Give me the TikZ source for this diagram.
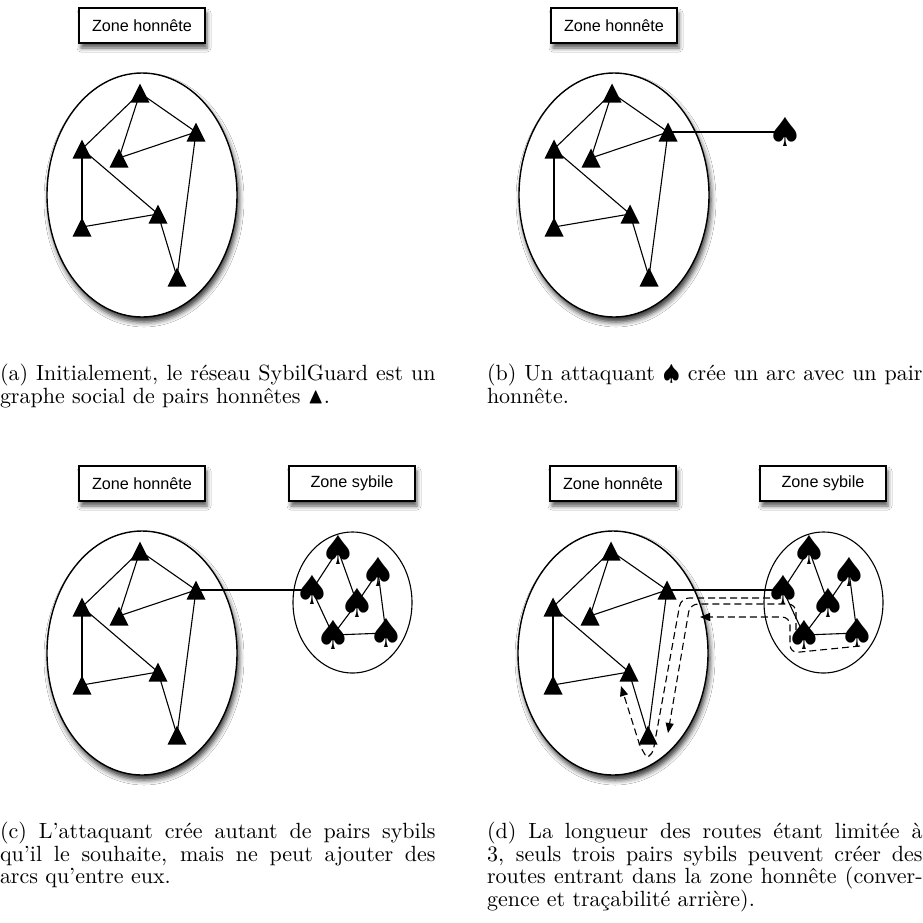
\documentclass[tikz,border=0pt]{standalone}
\usepackage{amssymb}
\usepackage{fontspec}
\newfontfamily\helv{Liberation Sans}
\newfontfamily\dejavu{DejaVu Sans}
\usetikzlibrary{shapes.geometric,arrows.meta,shadows.blur}

\tikzset{
  tri/.style={rectangle, inner sep=0pt, outer sep=0pt, minimum width=19pt, minimum height=19pt},
  sp/.style={inner sep=0pt, outer sep=0pt, font=\dejavu\fontsize{40}{40}\selectfont},
  edge/.style={line width=1.1pt, black},
  hzone/.style={ellipse, draw, line width=1.4pt, fill=white, minimum width=190pt, minimum height=244pt, inner sep=0pt,
    blur shadow={shadow xshift=2pt, shadow yshift=-5pt, shadow blur radius=5pt, shadow opacity=80}},
  szone/.style={ellipse, draw, line width=1.1pt, fill=white, minimum width=119pt, minimum height=141pt, inner sep=0pt},
  lbl/.style={rectangle, draw, line width=1.1pt, fill=white, minimum width=126pt, minimum height=35pt, inner sep=0pt,
    font=\helv\fontsize{16.2}{18}\selectfont,
    blur shadow={shadow xshift=2pt, shadow yshift=-5pt, shadow blur radius=4pt, shadow opacity=65}},
  route/.style={line width=1.1pt, dash pattern=on 7pt off 4pt, -{Triangle[length=10pt,width=8pt]}},
  captext/.style={anchor=north west, inner sep=0pt, outer sep=0pt, scale=2.2, transform shape,
    align=left, font=\fontsize{10}{10.45}\selectfont}
}
\newcommand\jline[1]{\makebox[198pt][s]{#1}}

\newcommand\honestgraph[1]{%
  \node[hzone] (#1e) at (142,195) {};
  \node[tri] (#1t1) at (140,93) {};
  \node[tri] (#1t2) at (196,132) {};
  \node[tri] (#1t3) at (82,149) {};
  \node[tri] (#1t4) at (119,158) {};
  \node[tri] (#1t5) at (82,227) {};
  \node[tri] (#1t6) at (158,214) {};
  \node[tri] (#1t7) at (177,277) {};
  \draw[edge] (#1t1.center) -- (#1t3.center);
  \draw[edge] (#1t1.center) -- (#1t4.center);
  \draw[edge] (#1t1.center) -- (#1t2.center);
  \draw[edge] (#1t2.center) -- (#1t4.center);
  \draw[edge] (#1t2.center) -- (#1t7.center);
  \draw[edge] (#1t3.center) -- (#1t5.center);
  \draw[edge] (#1t3.center) -- (#1t6.center);
  \draw[edge] (#1t5.center) -- (#1t6.center);
  \draw[edge] (#1t6.center) -- (#1t7.center);
  \foreach \k in {1,...,7} {\fill (#1t\k.south west) -- (#1t\k.south east) -- (#1t\k.north) -- cycle;}
}

\newcommand\sybilgraph[1]{%
  \node[szone] (#1e) at (352.5,602.5) {};
  \node[sp] (#1s1) at (338,550) {♠};
  \node[sp] (#1s2) at (378,572) {♠};
  \node[sp] (#1s3) at (312,590) {♠};
  \node[sp] (#1s4) at (357,603) {♠};
  \node[sp] (#1s5) at (333,635) {♠};
  \node[sp] (#1s6) at (386,633) {♠};
  \draw[edge] (#1s1.center) -- (#1s3.center);
  \draw[edge] (#1s1.center) -- (#1s4.center);
  \draw[edge] (#1s3.center) -- (#1s5.center);
  \draw[edge] (#1s5.center) -- (#1s4.center);
  \draw[edge] (#1s4.center) -- (#1s2.center);
  \draw[edge] (#1s2.center) -- (#1s6.center);
  \draw[edge] (#1s5.center) -- (#1s6.center);
}

\begin{document}
\begin{tikzpicture}[x=1pt,y=-1pt]
\useasboundingbox (0,0) rectangle (923,922);
\fill[white] (0,0) rectangle (923,922);

% (a)
\node[lbl] (la) at (142,25.5) {Zone honnête};
\honestgraph{a}

% (b)
\node[lbl] (lb) at (614,25.5) {Zone honnête};
\begin{scope}[shift={(472,0)}]
  \honestgraph{b}
\end{scope}
\node[sp] (bsp) at (785,132) {♠};
\draw[edge] (bt2.center) -- (bsp.center);

% (c)
\node[lbl] (lc1) at (142,483.5) {Zone honnête};
\node[lbl] (lc2) at (352,483.5) {Zone sybile};
\begin{scope}[shift={(0,458)}]
  \honestgraph{c}
\end{scope}
\sybilgraph{c}
\draw[edge] (ct2.center) -- (cs3.center);

% (d)
\node[lbl] (ld1) at (613,483.5) {Zone honnête};
\node[lbl] (ld2) at (823,483.5) {Zone sybile};
\begin{scope}[shift={(471,458)}]
  \honestgraph{d}
\end{scope}
\begin{scope}[shift={(471,0)}]
  \sybilgraph{d}
\end{scope}
\draw[edge] (dt2.center) -- (ds3.center);
\coordinate (r1s) at (781,598);
\coordinate (r2s) at (796,630);
\coordinate (r3s) at (860,646);
\draw[route] (r1s) [rounded corners=8pt] -- (681,598) [rounded corners=2pt] -- (653,752) -- (647,758) -- (640,746) [sharp corners] -- (621,686);
\draw[route] (r2s) [rounded corners=8pt] -- (796,604) -- (690,604) [sharp corners] -- (668,733);
\draw[route] (r3s) [rounded corners=8pt] -- (790,653) -- (790,617) [sharp corners] -- (700,617);

% captions
\node[captext] (capa) at (0,363.5) {\jline{(a) Initialement, le réseau SybilGuard est un}\\ graphe social de pairs honnêtes $\blacktriangle$.};
\node[captext] (capb) at (487,363.5) {\jline{(b) Un attaquant $\spadesuit$ crée un arc avec un pair}\\ honnête.};
\node[captext] (capc) at (0,821.5) {\jline{(c) L’attaquant crée autant de pairs sybils}\\ \jline{qu’il le souhaite, mais ne peut ajouter des}\\ arcs qu’entre eux.};
\node[captext] (capd) at (487,821.5) {\jline{(d) La longueur des routes étant limitée à}\\ \jline{3, seuls trois pairs sybils peuvent créer des}\\ \jline{routes entrant dans la zone honnête (conver-}\\ gence et traçabilité arrière).};
\end{tikzpicture}
\end{document}
